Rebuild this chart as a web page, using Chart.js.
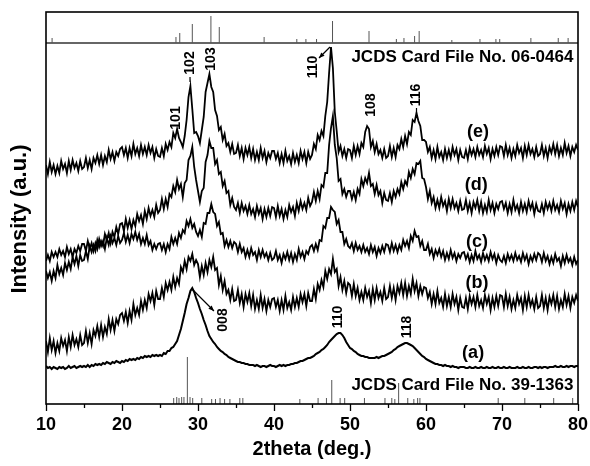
<!DOCTYPE html>
<html><head><meta charset="utf-8">
<script src="https://cdn.jsdelivr.net/npm/chart.js@4.4.1/dist/chart.umd.min.js"></script>
<style>html,body{margin:0;padding:0;background:#fff}</style>
</head><body>
<canvas id="c" width="590" height="466"></canvas>
<script>
// 2theta sampling grid (deg.), 10..80 in 0.25 steps
const twoTheta = [];
for (let i = 0; i <= 280; i++) twoTheta.push(10 + i * 0.25);

// intensities (a.u., offset traces)
const traceA = [
38,36,37,35,37,36,35,37,36,37,35,36,38,36,37,38,36,37,38,37,
38,37,39,37,39,38,40,39,40,39,41,40,42,41,40,42,41,43,42,41,
43,42,44,43,45,44,45,44,46,45,47,46,48,47,48,47,49,48,49,48,
49,48,51,50,53,53,56,57,60,63,69,75,83,91,100,106,113,116,112,106,
101,95,90,84,79,73,68,65,62,60,57,55,53,52,50,49,47,46,45,44,
43,42,42,41,41,40,40,39,39,39,38,39,38,37,38,38,37,38,39,38,
38,37,38,39,38,39,38,39,39,40,40,41,41,42,43,43,44,45,46,46,
47,48,50,51,52,54,55,57,59,62,64,66,68,70,71,71,69,66,62,59,
56,55,53,52,50,49,48,48,47,47,46,46,46,46,47,46,47,48,48,49,
50,51,52,54,55,57,58,59,60,61,61,60,59,58,56,54,52,50,48,47,
45,44,43,42,41,40,40,39,39,38,39,38,38,37,38,37,37,36,37,37,
37,36,36,37,36,36,37,36,36,37,36,36,37,36,36,37,36,36,37,36,
36,37,36,36,37,36,36,36,37,36,36,37,36,36,37,36,36,37,37,36,
37,36,37,37,36,37,37,37,38,37,37,38,37,37,38,37,38,38,37,38,
38];
const traceB = [
63,52,66,54,63,51,61,53,66,58,64,53,67,57,69,59,65,57,69,59,
61,73,61,71,60,74,68,78,67,79,67,77,70,85,74,84,73,85,80,89,
91,83,92,81,93,84,100,89,96,89,103,94,104,96,110,103,111,99,113,105,
105,116,107,121,114,122,114,127,117,126,120,137,132,143,135,147,143,150,139,144,
140,127,138,129,141,132,144,137,147,134,136,119,128,114,123,110,114,104,115,103,
104,114,101,110,97,110,102,111,98,109,95,104,95,109,96,105,93,104,97,105,
106,97,104,93,104,94,108,96,102,94,107,97,106,97,110,102,110,98,111,103,
103,115,105,120,114,124,117,133,125,135,130,145,132,135,118,127,114,123,111,121,
119,108,120,108,116,104,112,104,116,107,113,101,115,104,116,106,112,103,116,105,
107,118,106,116,104,118,111,121,109,121,108,118,110,125,113,121,108,118,110,117,
116,106,112,100,110,100,113,101,106,97,110,98,107,97,110,100,107,94,106,97,
96,106,95,108,100,107,97,109,98,104,96,109,100,107,94,106,97,108,98,109,
108,97,110,98,107,95,104,96,109,100,106,94,108,97,109,98,104,95,107,96,
98,109,96,106,94,107,100,109,97,108,95,104,97,110,99,108,96,107,101,109,
103];
const traceC = [
143,149,143,152,147,152,147,155,149,153,147,157,150,155,147,155,151,158,153,160,
160,153,163,155,161,153,161,155,165,158,163,155,166,159,168,161,166,159,168,161,
164,171,162,169,161,170,165,172,164,170,160,166,160,169,159,163,154,160,155,160,
161,154,160,152,160,155,167,160,166,160,171,166,174,171,183,178,185,176,180,172,
168,174,167,181,180,191,191,200,192,190,178,182,170,171,158,164,157,163,156,162,
160,152,160,152,156,147,154,147,156,149,152,144,154,147,154,147,151,144,151,144,
146,153,144,149,141,150,145,152,144,151,142,150,144,155,147,152,145,153,150,157,
159,153,160,154,164,163,178,176,186,186,197,194,192,180,184,172,172,160,165,158,
156,161,153,161,154,158,152,159,152,156,150,159,152,157,148,156,151,158,152,160,
159,152,161,153,159,152,159,154,164,158,163,156,168,163,173,167,168,158,163,154,
154,160,150,155,146,154,149,155,147,153,144,151,145,154,146,151,143,150,146,151,
152,145,150,142,149,143,153,145,149,142,151,144,149,143,152,145,150,141,149,144,
142,148,141,150,144,149,143,151,144,148,142,151,144,149,140,148,143,150,144,151,
149,142,151,143,148,140,147,141,150,143,146,138,148,141,149,142,146,139,147,140,
144];
const traceD = [
133,126,132,123,133,126,139,130,136,129,141,134,142,135,147,140,148,138,149,143,
144,153,145,158,152,159,153,164,157,163,158,170,164,171,161,172,167,177,170,180,
181,173,185,176,184,175,184,178,190,183,189,180,193,185,196,188,194,187,199,191,
194,205,195,205,197,210,207,218,212,224,215,220,207,221,224,244,248,257,237,224,
213,202,213,216,242,249,263,256,256,240,244,230,232,218,223,211,213,199,206,197,
194,201,191,201,193,198,190,199,190,195,187,198,190,196,185,195,187,196,188,197,
196,187,198,188,195,185,194,187,199,192,197,188,201,193,203,195,201,194,206,198,
202,212,203,213,205,219,217,231,231,259,276,288,259,246,223,225,210,215,207,213,
213,205,212,204,215,210,225,218,226,221,231,218,220,210,219,209,213,201,211,204,
203,211,202,213,207,215,210,222,215,223,219,232,226,235,230,241,240,243,226,225,
217,205,213,201,207,196,204,196,207,198,203,193,205,196,205,196,201,193,203,194,
195,204,193,201,191,202,196,204,193,202,191,199,192,204,194,201,191,200,195,202,
203,195,201,191,200,192,204,194,199,191,202,193,200,192,203,195,201,190,200,193,
192,200,191,202,195,201,193,203,194,199,192,203,195,201,190,200,193,202,194,203,
197];
const traceE = [
239,230,242,232,239,230,238,231,243,235,240,231,243,234,244,236,241,233,243,235,
237,246,236,244,235,246,241,249,240,249,239,248,242,254,245,252,243,252,248,255,
257,249,256,246,256,248,260,250,256,248,259,250,257,249,259,251,257,246,255,248,
247,256,248,260,254,262,257,271,266,275,266,262,257,268,284,307,318,295,271,272,
268,261,274,287,312,321,330,317,312,294,288,274,277,264,270,258,261,252,260,250,
251,259,248,256,245,256,249,257,246,255,244,252,244,256,246,253,242,251,246,253,
253,245,251,241,250,241,253,243,248,240,251,242,249,241,253,245,252,241,252,245,
249,260,255,269,264,273,268,288,302,331,357,336,292,273,252,258,248,255,246,255,
254,246,258,249,258,250,261,257,272,278,275,257,263,252,260,250,254,246,255,246,
248,258,247,256,247,259,255,265,257,268,260,272,269,284,282,291,283,278,264,264,
262,252,257,246,254,245,257,247,252,244,255,246,254,246,257,249,255,244,254,247,
246,254,245,256,249,255,247,257,249,254,247,258,250,256,245,255,248,257,249,258,
257,248,259,249,256,246,255,248,259,251,256,246,258,249,259,250,255,247,257,248,
250,259,248,256,246,257,251,260,250,259,248,256,249,261,251,258,248,257,252,259,
254];

// reference patterns (stick positions, relative heights)
const card0464Pos = [10.8,27.1,27.6,29.25,31.7,32.8,38.7,43.0,44.2,45.6,47.7,52.5,56.1,57.1,58.5,59.1,63.4,67.1,69.2,69.7,73.8,77.4,78.7];
const card0464H   = [5,6,10,19,27,16,6,4,4,4,22,12,4,5,7,12,3,4,4,4,5,5,5];
const card1363Pos = [26.8,27.2,27.5,27.85,28.15,28.6,28.95,29.3,30.5,31.8,32.3,32.9,33.5,34.2,35.5,35.9,43.4,45.8,46.9,47.6,48.7,49.3,51.9,54.6,55.5,55.9,56.4,57.6,58.4,58.9,59.2,69.5,73.0,76.8,79.3];
const card1363H   = [6,7,6,7,7,47,7,6,6,5,5,6,5,5,6,6,5,6,6,24,6,6,6,6,6,5,21,6,5,6,6,6,6,6,6];
const separatorLevel = 361;

const xTickLabels = [10,20,30,40,50,60,70,80];
const traceNames = ['(a)','(b)','(c)','(d)','(e)'];

function stickData(pos, h, base) {
  const d = [];
  pos.forEach((t, i) => { d.push({x:t,y:base}); d.push({x:t,y:base+h[i]}); d.push({x:t,y:null}); });
  return d;
}
function traceData(vals) { return twoTheta.map((t, i) => ({x:t, y:vals[i]})); }

const FONT = '"Liberation Sans", Arial, Helvetica, sans-serif';

const annot = {
  id: 'annot',
  afterDraw(chart) {
    const {ctx, scales:{x, y}, chartArea:a} = chart;
    const px = t => x.getPixelForValue(t), py = v => y.getPixelForValue(v);
    ctx.save();
    ctx.strokeStyle = '#000'; ctx.lineWidth = 1.6;
    ctx.strokeRect(a.left, a.top, a.right - a.left, a.bottom - a.top);
    // x ticks (outward)
    ctx.lineWidth = 1.3;
    for (let t = 10; t <= 80; t += 5) {
      const X = Math.round(px(t)) + 0.5;
      ctx.beginPath(); ctx.moveTo(X, a.bottom); ctx.lineTo(X, a.bottom + (t % 10 === 0 ? 7 : 4)); ctx.stroke();
    }
    ctx.fillStyle = '#000';
    const txt = (s, t, v, rot, size, align) => {
      ctx.save(); ctx.translate(px(t), py(v)); ctx.rotate(rot * Math.PI / 180);
      ctx.font = 'bold ' + size + 'px ' + FONT; ctx.textAlign = align || 'center'; ctx.textBaseline = 'middle';
      ctx.fillText(s, 0, 0); ctx.restore();
    };
    const line = (t1, v1, t2, v2, head) => {
      const x1 = px(t1), y1 = py(v1), x2 = px(t2), y2 = py(v2);
      ctx.lineWidth = 1.2; ctx.beginPath(); ctx.moveTo(x1, y1); ctx.lineTo(x2, y2); ctx.stroke();
      if (head) {
        const ang = Math.atan2(y2 - y1, x2 - x1), L = 6;
        ctx.beginPath(); ctx.moveTo(x2, y2);
        ctx.lineTo(x2 - L * Math.cos(ang - 0.4), y2 - L * Math.sin(ang - 0.4));
        ctx.lineTo(x2 - L * Math.cos(ang + 0.4), y2 - L * Math.sin(ang + 0.4));
        ctx.closePath(); ctx.fill();
      }
    };
    // y-axis title
    ctx.save(); ctx.translate(20, 219); ctx.rotate(-Math.PI / 2);
    ctx.font = 'bold 22px ' + FONT; ctx.textAlign = 'center'; ctx.textBaseline = 'middle';
    ctx.fillText('Intensity (a.u.)', 0, 0); ctx.restore();
    // Miller indices
    txt('101', 27.1, 286, -90, 14);
    txt('102', 28.95, 341, -90, 14);
    line(28.95, 327, 28.95, 322);
    txt('103', 31.7, 345, -90, 14);
    txt('110', 45.13, 337, -90, 14);
    line(47.37, 357, 45.92, 346, true);
    txt('108', 52.76, 299, -90, 14);
    txt('116', 58.7, 309, -90, 14);
    line(58.75, 296, 58.75, 290);
    txt('008', 33.29, 84, -90, 14);
    line(29.21, 115, 32.1, 93, true);
    txt('110', 48.42, 87, -90, 14);
    txt('118', 57.5, 77, -90, 14);
    // trace names
    const namePos = [[66.2,51],[66.7,121],[66.7,162],[66.6,219],[66.85,272]];
    traceNames.forEach((n, i) => txt(n, namePos[i][0], namePos[i][1], 0, 18));
    // card captions
    txt('JCDS Card File No. 06-0464', 79.4, 347, 0, 17, 'right');
    txt('JCDS Card File No. 39-1363', 79.4, 19, 0, 17, 'right');
    ctx.restore();
  }
};

const traceStyle = (lw) => ({borderColor:'#000', borderWidth:lw, pointRadius:0, tension:0, fill:false});

new Chart(document.getElementById('c'), {
  type: 'line',
  data: {
    datasets: [
      Object.assign({label:'JCDS 06-0464', data: stickData(card0464Pos, card0464H, separatorLevel), spanGaps:false}, traceStyle(1), {borderColor:'#555'}),
      Object.assign({label:'JCDS 39-1363', data: stickData(card1363Pos, card1363H, 0), spanGaps:false}, traceStyle(1), {borderColor:'#555'}),
      Object.assign({label:'sep', data: [{x:10,y:separatorLevel},{x:80,y:separatorLevel}]}, traceStyle(1.3), {borderColor:'#333'}),
      Object.assign({label:'(a)', data: traceData(traceA)}, traceStyle(2)),
      Object.assign({label:'(b)', data: traceData(traceB)}, traceStyle(1.8)),
      Object.assign({label:'(c)', data: traceData(traceC)}, traceStyle(1.8)),
      Object.assign({label:'(d)', data: traceData(traceD)}, traceStyle(1.8)),
      Object.assign({label:'(e)', data: traceData(traceE)}, traceStyle(1.8))
    ]
  },
  options: {
    responsive: false, animation: false, devicePixelRatio: 1,
    layout: {padding: {top:12, right:12, left:0, bottom:0}},
    plugins: {legend:{display:false}, tooltip:{enabled:false}},
    scales: {
      x: {
        type: 'linear', min: 10, max: 80,
        afterBuildTicks: (s) => { s.ticks = xTickLabels.map(v => ({value:v})); },
        afterFit: (s) => { s.height = 62; s.paddingLeft = 0; s.paddingRight = 0; },
        ticks: {font:{family:FONT, size:18, weight:'bold'}, color:'#000', padding:10, maxRotation:0},
        grid: {display:true, drawOnChartArea:false, drawTicks:false},
        border: {display:false},
        title: {display:true, text:'2theta (deg.)', color:'#000', font:{family:FONT, size:20, weight:'bold'}, padding:{top:0, bottom:5}}
      },
      y: {
        min: 0, max: 392,
        afterFit: (s) => { s.width = 46; s.paddingTop = 0; s.paddingBottom = 0; },
        ticks: {display:false},
        grid: {display:false},
        border: {display:false},
        title: {display:false, text:'Intensity (a.u.)'}
      }
    }
  },
  plugins: [annot]
});
</script>
</body></html>
